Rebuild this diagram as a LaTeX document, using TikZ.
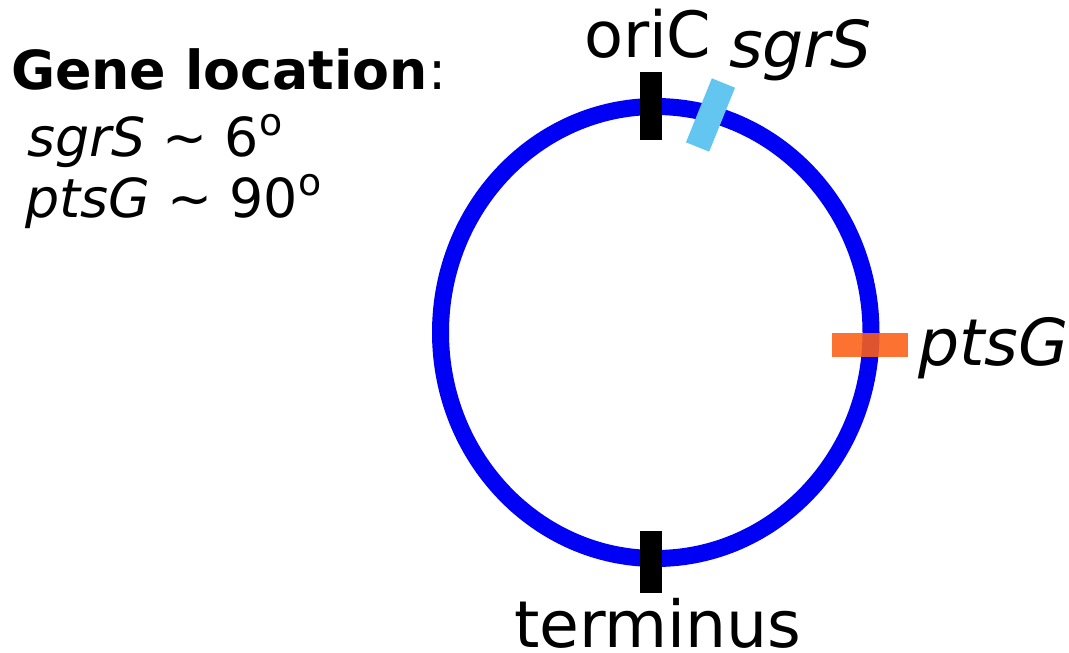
\documentclass[tikz,border=0pt]{standalone}
\usepackage{fontspec}
\setmainfont{DejaVu Sans}
\definecolor{chromblue}{RGB}{0,0,245}
\definecolor{sgrcol}{RGB}{98,198,240}
\definecolor{ptscol}{RGB}{252,96,20}
\tikzset{
  lbl/.style={inner sep=0pt, outer sep=0pt, anchor=base west, text=black},
  big/.style={font=\fontsize{65}{72}\selectfont},
  legend/.style={font=\fontsize{54}{60}\selectfont},
  tick/.style={fill=black, draw=none, inner sep=0pt, minimum width=22bp, minimum height=68bp},
}
\newcommand{\wave}{\symbol{126}}
% raised small "o" used as a degree mark
\newcommand{\degmark}{\kern1bp\raisebox{21bp}{\fontsize{38}{40}\selectfont o}}
\begin{document}
\begin{tikzpicture}[x=1bp,y=-1bp]
\useasboundingbox (0,0) rectangle (1069,653);
% chromosome
\draw[chromblue, line width=17bp] (655.75,332.5) ellipse [x radius=215.25, y radius=226];
% origin and terminus marks
\node[tick] (ori) at (650.5,106.5) {};
\node[tick, minimum height=62bp] (ter) at (650.5,562) {};
% gene marks
\node[fill=sgrcol, draw=none, inner sep=0pt, minimum width=25bp, minimum height=69bp, rotate=-22] (sgr) at (710.5,115) {};
\node[fill=ptscol, fill opacity=0.88, draw=none, inner sep=0pt, minimum width=76bp, minimum height=24bp] (pts) at (870,345) {};
% labels
\node[lbl, font=\fontsize{64}{70}\selectfont] (oriL) at (584,58) {oriC};
\node[lbl, big] (sgrL) at (729,68) {\itshape sgrS};
\node[lbl, big] (ptsL) at (918,365) {\itshape ptsG};
\node[lbl, big] (terL) at (514,647) {terminus};
% legend
\node[lbl, legend] (legT) at (11,90) {\textbf{Gene location}:};
\node[lbl, legend] (leg1) at (27,157) {\itshape sgrS\/\upshape{} \wave{} 6\degmark};
\node[lbl, legend] (leg2) at (25,217) {\itshape ptsG\/\upshape{} \wave{} 90\degmark};
\end{tikzpicture}
\end{document}
